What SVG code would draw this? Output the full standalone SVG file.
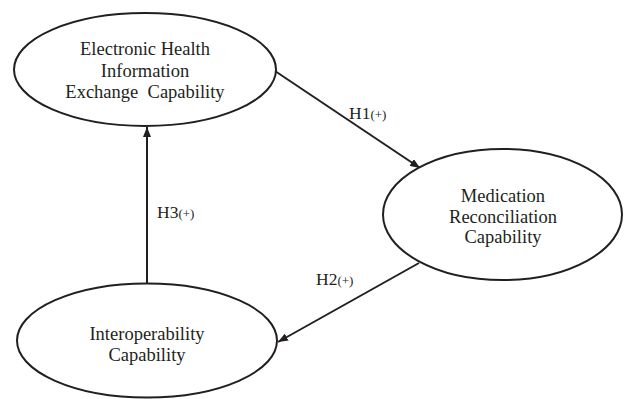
<svg xmlns="http://www.w3.org/2000/svg" width="624" height="399" viewBox="0 0 624 399">
<style>
.node ellipse{fill:#fff;stroke:#231f20;stroke-width:2}
.node text{font-family:"Liberation Serif","Times New Roman",serif;font-size:18.5px;fill:#231f20;text-anchor:middle}
.lbl{font-family:"Liberation Serif","Times New Roman",serif;font-size:17.5px;fill:#231f20}
.sm{font-size:13px}
.edge{stroke:#231f20;stroke-width:2;fill:none;marker-end:url(#ah)}
</style>
<defs>
<marker id="ah" viewBox="0 0 10 8" refX="10" refY="4" markerWidth="10" markerHeight="8" markerUnits="userSpaceOnUse" orient="auto">
<path d="M0,0 L10,4 L0,8 Z" fill="#231f20"/>
</marker>
</defs>
<rect width="624" height="399" fill="#fff"/>
<g id="connectors">
<line class="edge" x1="275" y1="71" x2="420" y2="168"/>
<line class="edge" x1="419" y1="263" x2="278" y2="342"/>
<line class="edge" x1="147" y1="284" x2="147" y2="127"/>
<text class="lbl" x="349" y="119">H1<tspan class="sm">(+)</tspan></text>
<text class="lbl" x="316" y="285">H2<tspan class="sm">(+)</tspan></text>
<text class="lbl" x="157" y="218">H3<tspan class="sm">(+)</tspan></text>
</g>
<g id="ehie" class="node">
<ellipse cx="145" cy="69.5" rx="131" ry="56.5"/>
<text x="145" y="55">Electronic Health</text>
<text x="145" y="77">Information</text>
<text x="145" y="98" xml:space="preserve">Exchange  Capability</text>
</g>
<g id="mrc" class="node">
<ellipse cx="502.5" cy="214.5" rx="119.5" ry="65.5"/>
<text x="503" y="202">Medication</text>
<text x="503" y="223">Reconciliation</text>
<text x="503" y="243">Capability</text>
</g>
<g id="ic" class="node">
<ellipse cx="147" cy="340.5" rx="130" ry="57"/>
<text x="147" y="340">Interoperability</text>
<text x="147" y="361">Capability</text>
</g>
</svg>
